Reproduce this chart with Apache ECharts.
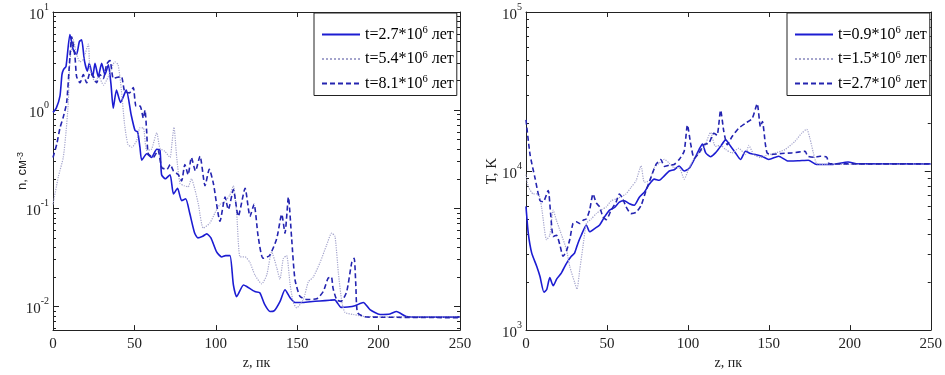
<!DOCTYPE html>
<html>
<head>
<meta charset="utf-8">
<script src="https://cdn.jsdelivr.net/npm/echarts@6/dist/echarts.min.js"></script>
<style>
  html, body { margin: 0; padding: 0; background: #fff; }
  #chart { width: 945px; height: 375px; }
</style>
</head>
<body>
<div id="chart"></div>
<script>
// плотность n (см^-3) от z (пк), три момента времени
var nameN1 = 't=2.7*10^6 лет';
var nameN2 = 't=5.4*10^6 лет';
var nameN3 = 't=8.1*10^6 лет';
var n1 = [[0,0.95],[2,1.05],[4.3,1.4],[5.5,2.3],[6.5,2.6],[8,2.8],[10.4,5.9],[12.5,4.1],[14.5,3.7],[16.2,5.0],[17.6,5.2],[19.3,3.2],[21.1,2.5],[22.3,3.0],[24.4,2.2],[25.8,3.0],[27.8,2.2],[29.9,3.0],[31.9,2.3],[34,2.9],[35.6,1.85],[37,1.05],[39,1.6],[41.5,1.2],[45,1.6],[48,0.9],[50.4,0.62],[52,0.6],[53.4,0.42],[54.5,0.31],[57.6,0.36],[60.5,0.33],[63.7,0.4],[65.7,0.39],[66.7,0.22],[69,0.2],[71.9,0.22],[74,0.14],[76.5,0.16],[79,0.12],[81.5,0.125],[84,0.089],[87,0.056],[89,0.05],[92,0.052],[94.4,0.055],[97,0.05],[100.5,0.036],[103.6,0.032],[106,0.033],[108.7,0.033],[110.8,0.0166],[112.8,0.0126],[117,0.0166],[119,0.016],[124,0.0142],[127,0.0138],[130,0.0105],[133.3,0.0089],[136,0.0091],[139.4,0.0112],[142.5,0.0148],[145.6,0.0123],[148.6,0.011],[152.7,0.011],[158,0.0112],[164,0.0114],[170,0.0116],[173,0.0117],[177,0.0098],[181,0.0099],[185.5,0.0102],[190.6,0.011],[194.7,0.0093],[200.9,0.0083],[207,0.0084],[211,0.0089],[217,0.0079],[225,0.0078],[250,0.0078]];
var n2 = [[0,0.11],[3.3,0.21],[6.3,0.33],[8,0.6],[9.4,1.2],[10.4,3.2],[12.5,5.2],[14.5,3.7],[16.6,3.1],[18.6,3.3],[21.7,4.7],[22.7,2.6],[25.8,1.95],[28,2.2],[31,1.8],[34,2.2],[38,3.1],[40,2.9],[42,1.6],[44,0.71],[46,0.45],[48.5,0.42],[51.4,0.49],[53.4,0.66],[55.5,0.66],[57.5,0.39],[60.5,0.4],[63.7,0.59],[65.7,0.41],[68.8,0.38],[71.9,0.33],[73,0.45],[74.3,0.67],[76,0.33],[78,0.18],[80.5,0.17],[83,0.166],[85,0.2],[87.2,0.155],[89.3,0.11],[92.3,0.063],[96.4,0.071],[99.5,0.09],[102.6,0.11],[105.7,0.117],[108.7,0.138],[110.8,0.17],[112.8,0.09],[114.9,0.032],[118,0.032],[121,0.028],[124,0.021],[128.2,0.017],[131.3,0.021],[134.3,0.036],[137.4,0.025],[139.4,0.019],[141.5,0.031],[143.5,0.033],[145.6,0.017],[147.6,0.011],[149.7,0.0097],[153.8,0.0118],[156.8,0.0178],[159.9,0.02],[164,0.028],[168,0.042],[171.2,0.056],[173.2,0.052],[175.3,0.022],[177.4,0.0112],[179.4,0.0087],[184.5,0.0083],[192,0.0079],[250,0.0078]];
var n3 = [[0,0.33],[2.3,0.45],[4.3,0.66],[6.3,0.85],[8.4,1.2],[10.4,3.5],[11.5,5.6],[13.5,3.5],[14.5,2.2],[16.6,1.9],[18.6,2.3],[20.7,1.9],[22.7,2.4],[24.8,2.2],[26.8,1.9],[28.9,2.3],[30.9,2.1],[33,2.95],[35,3.2],[37,2.1],[39,2.15],[42,2.2],[44,1.55],[47,1.5],[49.3,1.7],[51,1.1],[53.5,1.1],[55.5,0.83],[56.5,1.0],[57.5,0.62],[58.5,0.36],[61.6,0.33],[64.5,0.39],[66.8,0.26],[70,0.25],[72,0.28],[74,0.24],[77,0.22],[79,0.19],[81,0.28],[83,0.22],[85,0.33],[87.5,0.24],[90.3,0.34],[93.4,0.17],[96,0.25],[98.5,0.18],[102.6,0.074],[105.7,0.13],[107.7,0.097],[110.8,0.155],[113.8,0.083],[118,0.16],[121,0.083],[123.5,0.11],[126,0.052],[129,0.031],[133,0.033],[137.4,0.049],[140.5,0.087],[142.5,0.056],[144.6,0.13],[146.6,0.049],[148.6,0.019],[151.7,0.0127],[156,0.0118],[162,0.012],[166,0.0142],[169,0.0195],[171,0.02],[172,0.0154],[174.3,0.0117],[177,0.0113],[180.4,0.0142],[183.5,0.028],[185,0.031],[186,0.0166],[187,0.0087],[191,0.0079],[197,0.0078],[250,0.0077]];

// температура T (K) от z (пк)
// (пробел в конце имени — чтобы не совпадало с первой кривой слева)
var nameT1 = 't=0.9*10^6 лет ';
var nameT2 = 't=1.5*10^6 лет ';
var nameT3 = 't=2.7*10^6 лет ';
var t1 = [[0,6000],[1.4,4070],[3.5,3060],[6.6,2520],[8.6,2180],[11.1,1730],[12.8,1800],[14.7,2140],[16.8,1900],[19,2100],[21.9,2290],[25,2630],[28,2910],[30,3050],[32.1,3520],[34.2,3960],[37.3,4580],[39.3,4150],[42.4,4350],[45.5,4580],[48.5,5150],[51.6,5680],[54.7,5900],[57.7,6380],[60.8,6500],[63.9,6230],[66.9,6100],[70,6850],[73.1,7370],[76.2,8280],[79.2,8900],[82.3,8750],[85.4,9330],[88.5,10000],[91.5,10200],[94.6,10760],[97.7,10000],[100.8,10400],[103.9,11830],[106.9,13650],[109,14800],[111,13000],[114,12300],[117,13000],[120.2,14300],[123.3,15700],[126.4,14300],[129.4,13000],[132.5,11830],[135.6,13330],[138.6,12900],[141.8,12700],[145.8,12400],[150,11830],[156,12400],[162,11570],[168,11600],[174.4,11700],[179.5,11000],[188.7,11000],[199,11400],[205,11100],[250,11100]];
var t2 = [[0,9500],[1.4,8000],[4.5,7180],[7.5,7200],[9.6,5950],[12.7,3700],[14.7,3950],[16.8,5680],[18.8,4900],[20.9,4260],[25,3200],[27,2520],[30,2000],[31.5,1810],[33.2,2400],[35.2,3360],[37.3,4680],[40.3,5000],[43.4,5400],[46.5,5700],[49.6,5950],[52.6,6500],[55.7,6680],[58.8,6900],[61.8,7180],[64.9,7900],[68,8700],[71.1,10800],[73.1,8500],[76.2,8700],[79.2,10500],[82.3,11200],[85.4,11830],[88.5,11200],[91.5,10500],[94.6,10500],[97.7,8900],[100.8,10500],[103.9,12000],[106.9,13000],[110,14000],[114,17500],[117,14300],[120.2,14500],[123.3,13650],[127.3,13000],[131.4,13900],[135.6,12700],[137.6,14500],[140.7,12700],[144.8,12150],[147.9,12500],[154,13000],[160,13650],[166.2,15400],[170.3,17300],[173.4,18300],[175.4,16000],[177.5,13000],[179.5,11200],[184.7,11000],[250,11100]];
var t3 = [[0,21000],[2.5,12700],[5.5,9100],[8.6,6540],[10.6,6400],[13.7,7540],[15.2,5400],[16.8,3880],[18.8,3950],[20.9,3440],[22.9,2910],[25,3150],[27,3700],[29,4680],[31,4800],[33.2,4680],[35.2,4900],[37.3,5000],[39.3,5680],[41.4,7180],[43.4,6300],[45.5,5950],[47.5,5150],[49.6,4950],[52.6,5680],[55.7,6400],[57.7,7180],[59.8,6700],[61.8,5950],[64.9,5400],[68,5500],[71.1,6080],[74.1,7540],[77.2,9120],[80.3,11000],[83.3,11830],[85.4,10700],[88.5,10900],[91.5,11000],[94.6,11830],[97.7,13330],[99.7,19500],[101.8,14650],[103.9,12000],[106.9,13000],[110,14650],[113,15000],[116,17300],[118,16800],[120.2,24100],[122.2,17700],[124.3,14650],[127.3,16500],[131.4,18600],[135.6,20000],[139.7,21400],[142.8,26500],[144.8,19000],[146,20500],[147.9,14650],[148.9,13000],[151,12700],[158,12900],[164,13000],[172.4,13300],[174,12400],[178,12200],[181.6,12400],[185.7,12250],[187.5,11100],[250,11100]];

var nDecades = [-2, -1, 0, 1];
var tDecades = [3, 4, 5];
var nRange = [-2.24, 1];   // log10 пределы оси n
var tRange = [3, 5];       // log10 пределы оси T

var SERIF = '"Liberation Serif", "Times New Roman", serif';
var AXC = '#222';

function minorLog(lo, hi) {
  var out = [];
  for (var e = Math.floor(lo) - 1; e <= Math.ceil(hi); e++) {
    for (var k = 2; k <= 9; k++) {
      var v = e + Math.log10(k);
      if (v > lo && v < hi) out.push(v);
    }
  }
  return out;
}

function toLog(arr) {
  return arr.map(function (p) { return [p[0], Math.log10(p[1])]; });
}

var supRich = {
  b: { fontFamily: SERIF, fontSize: 15, color: AXC, lineHeight: 20, padding: [6, 0, 0, 0] },
  s: { fontFamily: SERIF, fontSize: 10, color: AXC, verticalAlign: 'top', lineHeight: 11 }
};
var legRich = {
  a: { fontFamily: SERIF, fontSize: 16, color: '#000', lineHeight: 19 },
  s: { fontFamily: SERIF, fontSize: 10.5, color: '#000', verticalAlign: 'top', lineHeight: 8 }
};

function legendFmt(name) {
  var p = name.trim().split('^');
  var rest = p[1].split(' ');
  return '{a|' + p[0] + '}{s|' + rest[0] + '}{a| ' + rest.slice(1).join(' ') + '}';
}

function xAxes(gi) {
  return [{
    gridIndex: gi, type: 'value', min: 0, max: 250, interval: 50, position: 'bottom',
    name: 'z, пк', nameLocation: 'middle', nameGap: 24,
    nameTextStyle: { fontFamily: SERIF, fontSize: 14, color: AXC },
    axisLine: { onZero: false, lineStyle: { color: AXC, width: 1 } },
    axisTick: { inside: true, length: 5, lineStyle: { color: AXC } },
    axisLabel: { margin: 6, fontFamily: SERIF, fontSize: 15, color: AXC },
    splitLine: { show: false }
  }, {
    gridIndex: gi, type: 'value', min: 0, max: 250, interval: 50, position: 'top',
    axisLine: { onZero: false, lineStyle: { color: AXC, width: 1 } },
    axisTick: { inside: true, length: 5, lineStyle: { color: AXC } },
    axisLabel: { show: false }, splitLine: { show: false }
  }];
}

function yAxes(gi, range, decades, name, nameGap, nameStyle) {
  var minors = minorLog(range[0], range[1]);
  var base = { gridIndex: gi, type: 'value', min: range[0], max: range[1], splitLine: { show: false } };
  return [
    Object.assign({}, base, {
      position: 'left', name: name, nameLocation: 'middle', nameRotate: 90, nameGap: nameGap,
      nameMoveOverlap: false,
      nameTextStyle: nameStyle,
      axisLine: { show: true, onZero: false, lineStyle: { color: AXC, width: 1 } },
      axisTick: { show: true, inside: true, length: 6, customValues: decades, lineStyle: { color: AXC } },
      axisLabel: {
        margin: 4, customValues: decades,
        formatter: function (v) { return '{b|10}{s|' + Math.round(v) + '}'; },
        rich: supRich
      }
    }),
    Object.assign({}, base, {
      position: 'left',
      axisLine: { show: false, onZero: false },
      axisTick: { show: true, inside: true, length: 3, customValues: minors, lineStyle: { color: AXC } },
      axisLabel: { show: false }
    }),
    Object.assign({}, base, {
      position: 'right',
      axisLine: { show: true, onZero: false, lineStyle: { color: AXC, width: 1 } },
      axisTick: { show: true, inside: true, length: 6, customValues: decades, lineStyle: { color: AXC } },
      axisLabel: { show: false }
    }),
    Object.assign({}, base, {
      position: 'right',
      axisLine: { show: false, onZero: false },
      axisTick: { show: true, inside: true, length: 3, customValues: minors, lineStyle: { color: AXC } },
      axisLabel: { show: false }
    })
  ];
}

var styles = [
  { color: '#1c1cd2', width: 1.6, type: 'solid' },
  { color: '#a4a4cc', width: 1.2, type: 'dotted' },
  { color: '#2424b0', width: 1.6, type: [5, 3] }
];

function line(name, data, st, xi, yi) {
  return {
    name: name, type: 'line', xAxisIndex: xi, yAxisIndex: yi,
    data: toLog(data), symbol: 'none', smooth: 0.2, animation: false,
    lineStyle: { color: st.color, width: st.width, type: st.type },
    itemStyle: { color: st.color }, z: 3
  };
}

function legend(left, names) {
  return {
    left: left, top: 13, orient: 'vertical', data: names,
    itemWidth: 38, itemHeight: 14, itemGap: 7, itemTextGap: 3,
    padding: [12, 3, 4, 7],
    backgroundColor: '#fff', borderColor: '#222', borderWidth: 1, borderRadius: 0,
    formatter: legendFmt, selectedMode: false,
    itemStyle: { opacity: 0 },
    textStyle: { rich: legRich }
  };
}

var chart = echarts.init(document.getElementById('chart'), null, { renderer: 'canvas' });

chart.setOption({
  animation: false,
  backgroundColor: '#fff',
  grid: [
    { left: 53, top: 12, width: 407, height: 323 },
    { left: 526, top: 12, width: 407, height: 323 }
  ],
  legend: [
    legend(314, [nameN1, nameN2, nameN3]),
    legend(787, [nameT1, nameT2, nameT3])
  ],
  xAxis: xAxes(0).concat(xAxes(1)),
  yAxis: yAxes(0, nRange, nDecades, 'n, см{s|-3}', 24,
      { fontFamily: '"Liberation Sans", Arial, sans-serif', fontSize: 13, color: AXC,
        rich: { s: { fontFamily: '"Liberation Sans", Arial, sans-serif', fontSize: 9, color: AXC, verticalAlign: 'top', lineHeight: 9 } } })
    .concat(yAxes(1, tRange, tDecades, 'T, K', 26, { fontFamily: SERIF, fontSize: 15, color: AXC })),
  series: [
    line(nameN1, n1, styles[0], 0, 0),
    line(nameN2, n2, styles[1], 0, 0),
    line(nameN3, n3, styles[2], 0, 0),
    line(nameT1, t1, styles[0], 2, 4),
    line(nameT2, t2, styles[1], 2, 4),
    line(nameT3, t3, styles[2], 2, 4)
  ]
});
</script>
</body>
</html>
